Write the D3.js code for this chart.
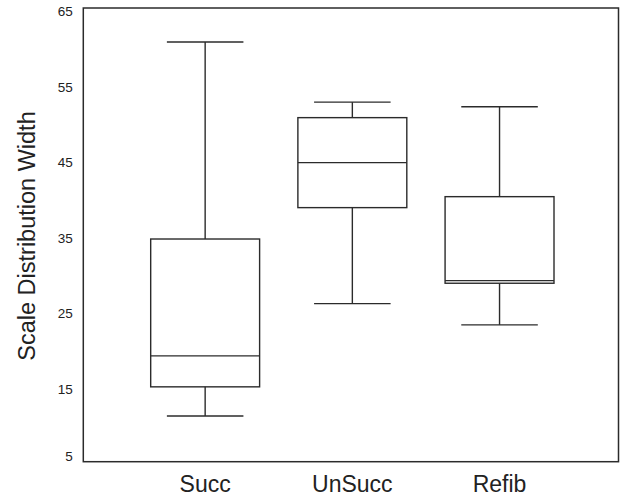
<!DOCTYPE html>
<html>
<head>
<meta charset="utf-8">
<script src="https://cdn.jsdelivr.net/npm/d3@7"></script>
<style>
body{margin:0;background:#fff;}
svg text{font-family:"Liberation Sans",Arial,sans-serif;fill:#222;}
</style>
</head>
<body>
<div class="chart"></div>
<script>
var categories = ["Succ","UnSucc","Refib"];
var whiskerLow = [11.05, 25.9, 23.1];
var q1 = [14.9, 38.6, 28.6];
var median = [19.0, 44.55, 28.95];
var q3 = [34.45, 50.5, 40.05];
var whiskerHigh = [60.5, 52.55, 51.95];
var yTicks = [5,15,25,35,45,55,65];

var totalWidth = 621, totalHeight = 496;
var frame = {left:83.3, right:618.5, top:8, bottom:461.7};

var svg = d3.select(".chart").append("svg")
	.attr("width",totalWidth)
	.attr("height",totalHeight);

var x = d3.scalePoint()
	.domain(categories)
	.range([frame.left, frame.right])
	.padding(0.818)
	.align(0.506);
var y = d3.scaleLinear()
	.domain([5,65])
	.range([frame.bottom, frame.top]);

var boxW = x.step()*0.74;
var capW = x.step()*0.52;
var ink = "#2b2b2b";

//y labels
var yAxis = svg.append("g")
	.attr("transform","translate("+frame.left+",0)")
	.call(d3.axisLeft(y).tickValues(yTicks).tickSize(0).tickPadding(10.6));
yAxis.select(".domain").remove();
yAxis.selectAll("text")
	.attr("font-size","13.5px")
	.attr("font-family","Liberation Sans, Arial, sans-serif")
	.attr("fill","#222")
	.attr("dy",function(d){ return d == yTicks[0] ? "-0.07em" : "0.55em"; });

//boxes
var boxes = svg.append("g").selectAll("g").data(categories).enter().append("g");
boxes.each(function(c,i){
	var g = d3.select(this);
	var cx = x(c);
	//whiskers
	g.append("line")
		.attr("x1",cx).attr("x2",cx)
		.attr("y1",y(q3[i])).attr("y2",y(whiskerHigh[i]));
	g.append("line")
		.attr("x1",cx).attr("x2",cx)
		.attr("y1",y(q1[i])).attr("y2",y(whiskerLow[i]));
	g.append("line")
		.attr("x1",cx-capW/2).attr("x2",cx+capW/2)
		.attr("y1",y(whiskerHigh[i])).attr("y2",y(whiskerHigh[i]));
	g.append("line")
		.attr("x1",cx-capW/2).attr("x2",cx+capW/2)
		.attr("y1",y(whiskerLow[i])).attr("y2",y(whiskerLow[i]));
	//box
	g.append("rect")
		.attr("x",cx-boxW/2)
		.attr("y",y(q3[i]))
		.attr("width",boxW)
		.attr("height",y(q1[i])-y(q3[i]))
		.attr("fill","none");
	g.append("line")
		.attr("x1",cx-boxW/2).attr("x2",cx+boxW/2)
		.attr("y1",y(median[i])).attr("y2",y(median[i]));
});
boxes.selectAll("line, rect")
	.attr("stroke",ink)
	.attr("stroke-width",1.4);

//frame
svg.append("rect")
	.attr("x",frame.left)
	.attr("y",frame.top)
	.attr("width",frame.right-frame.left)
	.attr("height",frame.bottom-frame.top)
	.attr("fill","none")
	.attr("stroke",ink)
	.attr("stroke-width",1.5);

//x labels
svg.append("g").selectAll("text").data(categories).enter().append("text")
	.attr("x",function(d){ return x(d); })
	.attr("y",491.5)
	.attr("text-anchor","middle")
	.attr("font-size","23px")
	.text(function(d){ return d; });

//y title
svg.append("text")
	.attr("transform","translate(35,236) rotate(-90)")
	.attr("text-anchor","middle")
	.attr("font-size","23.5px")
	.text("Scale Distribution Width");
</script>
</body>
</html>
